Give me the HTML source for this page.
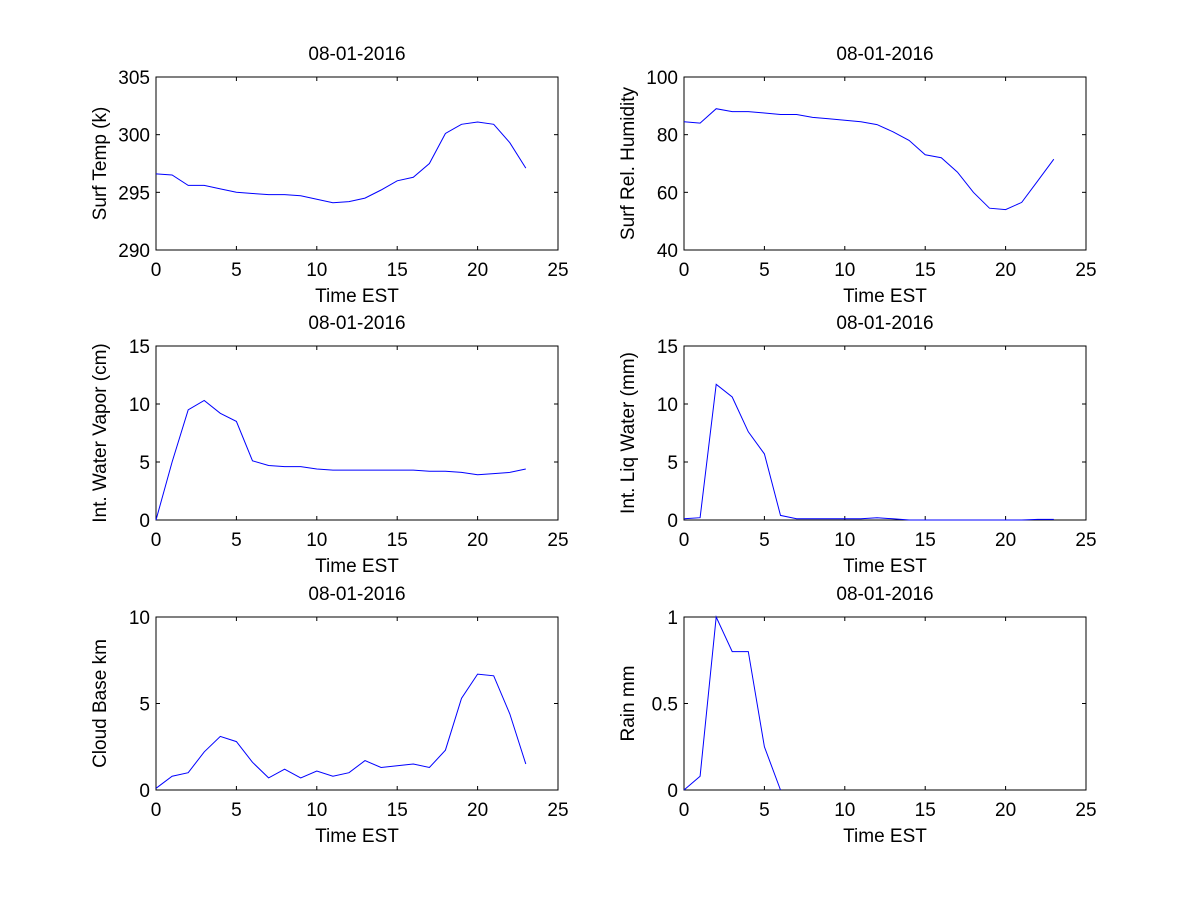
<!DOCTYPE html>
<html><head><meta charset="utf-8"><style>
body{margin:0;background:#fff;}
svg text{font-family:"Liberation Sans",Arial,sans-serif;font-size:19px;fill:#000;}
</style></head><body>
<svg id="fig" width="1200" height="900" xmlns="http://www.w3.org/2000/svg"></svg>
<script>
const hours=[0,1,2,3,4,5,6,7,8,9,10,11,12,13,14,15,16,17,18,19,20,21,22,23];
const surfTemp=[296.6,296.5,295.6,295.6,295.3,295.0,294.9,294.8,294.8,294.7,294.4,294.1,294.2,294.5,295.2,296.0,296.3,297.5,300.1,300.9,301.1,300.9,299.3,297.1];
const surfRH=[84.5,84,89,88,88,87.5,87,87,86,85.5,85,84.5,83.5,81,78,73,72,67,60,54.5,54,56.5,64,71.5];
const waterVapor=[0,5,9.5,10.3,9.2,8.5,5.1,4.7,4.6,4.6,4.4,4.3,4.3,4.3,4.3,4.3,4.3,4.2,4.2,4.1,3.9,4.0,4.1,4.4];
const liqWater=[0.1,0.2,11.7,10.6,7.6,5.7,0.4,0.1,0.1,0.1,0.1,0.1,0.2,0.1,0,0,0,0,0,0,0,0,0.05,0.05];
const cloudBase=[0.1,0.8,1.0,2.2,3.1,2.8,1.6,0.7,1.2,0.7,1.1,0.8,1.0,1.7,1.3,1.4,1.5,1.3,2.3,5.3,6.7,6.6,4.4,1.5];
const rain=[0,0.08,1.0,0.8,0.8,0.25,0,null,null,null,null,null,null,null,null,null,null,null,null,null,null,null,null,null];
const xTicks=[0,5,10,15,20,25];
const panels=[
 {name:'surf-temp',x0:156,x1:558,y0:77,y1:250,ymin:290,ymax:305,yt:[290,295,300,305],yl:'Surf Temp (k)',d:surfTemp},
 {name:'surf-humidity',x0:684,x1:1086,y0:77,y1:250,ymin:40,ymax:100,yt:[40,60,80,100],yl:'Surf Rel. Humidity',d:surfRH},
 {name:'water-vapor',x0:156,x1:558,y0:346,y1:520,ymin:0,ymax:15,yt:[0,5,10,15],yl:'Int. Water Vapor (cm)',d:waterVapor},
 {name:'liq-water',x0:684,x1:1086,y0:346,y1:520,ymin:0,ymax:15,yt:[0,5,10,15],yl:'Int. Liq Water (mm)',d:liqWater},
 {name:'cloud-base',x0:156,x1:558,y0:617,y1:790,ymin:0,ymax:10,yt:[0,5,10],yl:'Cloud Base km',d:cloudBase},
 {name:'rain',x0:684,x1:1086,y0:617,y1:790,ymin:0,ymax:1,yt:[0,0.5,1],yl:'Rain mm',d:rain}
];
const svg=document.getElementById('fig');
const NS='http://www.w3.org/2000/svg';
function mk(t,a,p){const e=document.createElementNS(NS,t);for(const k in a)e.setAttribute(k,a[k]);(p||svg).appendChild(e);return e;}
panels.forEach(p=>{
 const g=mk('g',{});
 
 
 const sx=v=>p.x0+(v-0)/(25-0)*(p.x1-p.x0);
 const sy=v=>p.y1-(v-p.ymin)/(p.ymax-p.ymin)*(p.y1-p.y0);
 const box=mk('rect',{x:p.x0,y:p.y0,width:p.x1-p.x0,height:p.y1-p.y0,fill:'#fff',stroke:'#000','stroke-width':1},g);
 
 
 xTicks.forEach(t=>{
  const x=sx(t);
  mk('line',{x1:x,x2:x,y1:p.y1,y2:p.y1-4,stroke:'#000'},g);
  mk('line',{x1:x,x2:x,y1:p.y0,y2:p.y0+4,stroke:'#000'},g);
  const tx=mk('text',{x:x,y:p.y1+26,'text-anchor':'middle'},g);tx.textContent=t;
  
  
 });
 p.yt.forEach(t=>{
  const y=sy(t);
  mk('line',{x1:p.x0,x2:p.x0+4,y1:y,y2:y,stroke:'#000'},g);
  mk('line',{x1:p.x1,x2:p.x1-4,y1:y,y2:y,stroke:'#000'},g);
  const tx=mk('text',{x:p.x0-6,y:y+7,'text-anchor':'end'},g);tx.textContent=t;
  
  
 });
 let path='';let pen=false;
 p.d.forEach((v,i)=>{if(v===null){pen=false;return;}path+=(pen?'L':'M')+sx(hours[i]).toFixed(1)+','+sy(v).toFixed(1);pen=true;});
 const ln=mk('path',{d:path,fill:'none',stroke:'#0000ff','stroke-width':1},g);
 
 
 const ti=mk('text',{x:(p.x0+p.x1)/2,y:p.y0-17,'text-anchor':'middle'},g);ti.textContent='08-01-2016';
 
 
 const xl=mk('text',{x:(p.x0+p.x1)/2,y:p.y1+52,'text-anchor':'middle'},g);xl.textContent='Time EST';
 
 
 const cy=(p.y0+p.y1)/2;const lx=p.x0-50;
 const yl=mk('text',{x:lx,y:cy,'text-anchor':'middle',transform:'rotate(-90 '+lx+' '+cy+')'},g);yl.textContent=p.yl;
 
 
});
</script>
</body></html>
